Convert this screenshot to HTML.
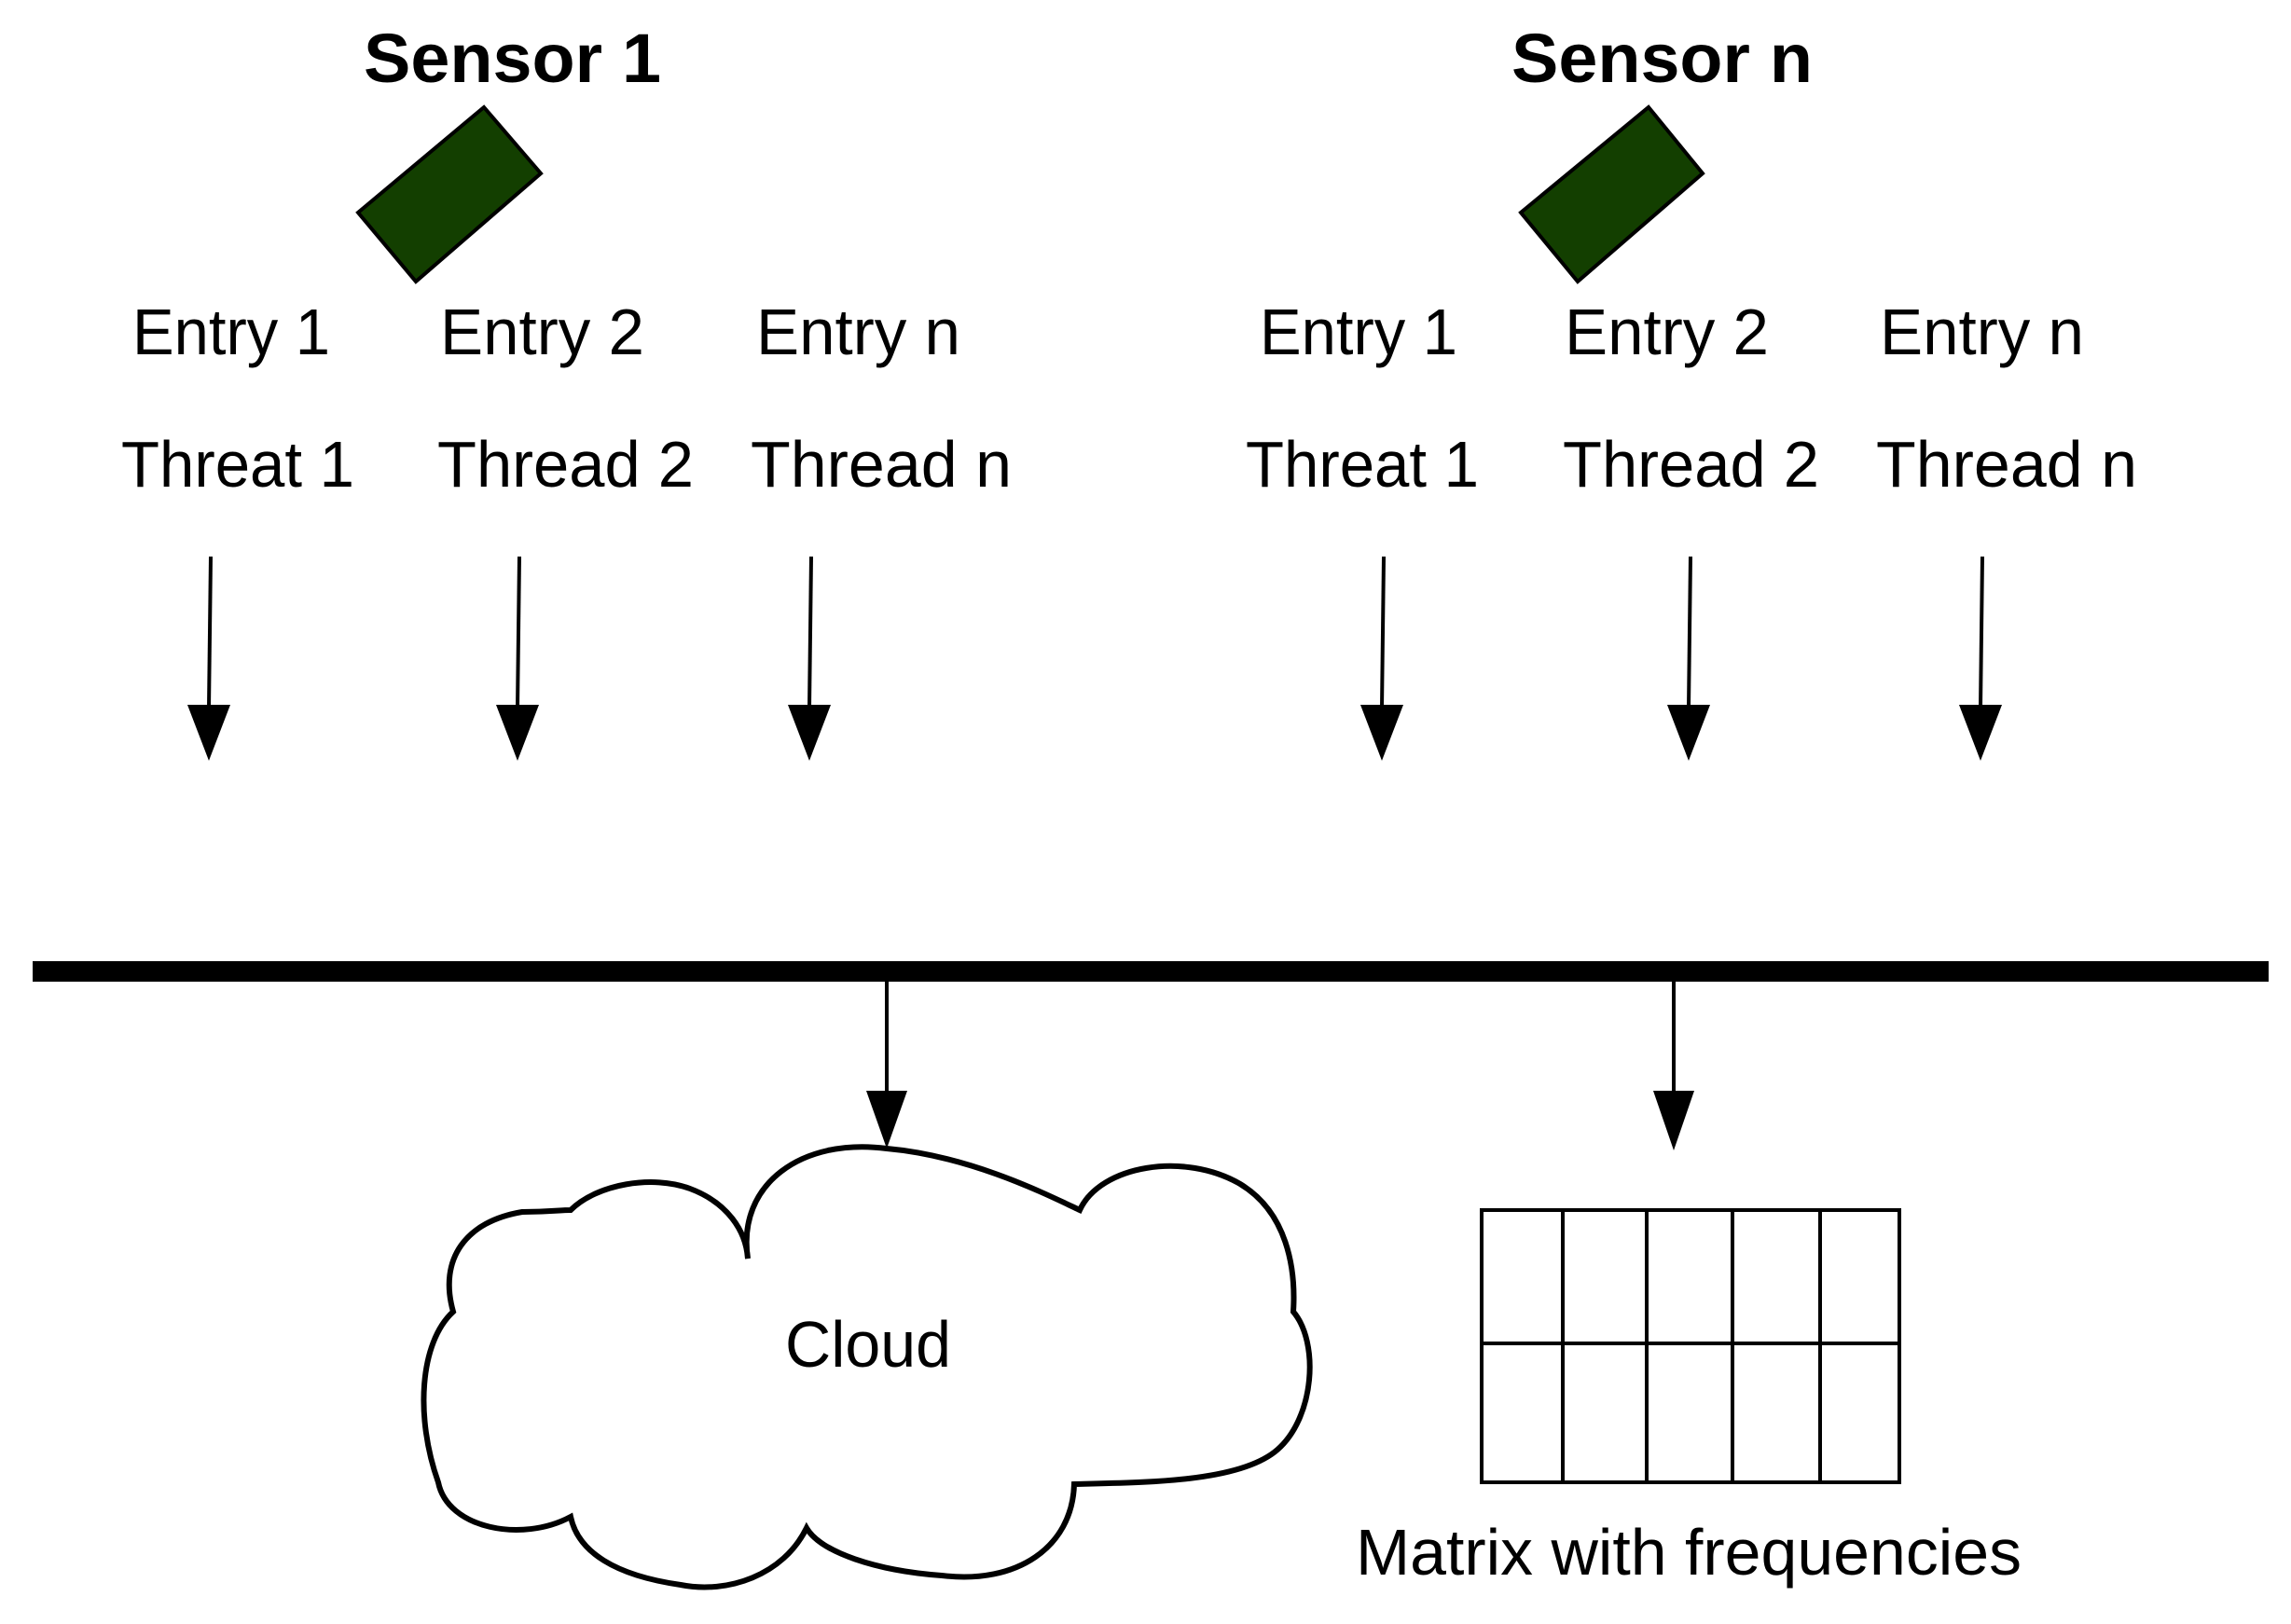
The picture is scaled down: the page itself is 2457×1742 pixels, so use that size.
<!DOCTYPE html>
<html><head><meta charset="utf-8"><style>html,body{margin:0;padding:0;background:#fff}svg{display:block}</style></head>
<body>
<svg width="2457" height="1742" viewBox="0 0 2457 1742" xmlns="http://www.w3.org/2000/svg" font-family="Liberation Sans, Arial, sans-serif">
<g font-weight="bold" font-size="74" fill="#000">
<text x="390" y="88" textLength="319" lengthAdjust="spacingAndGlyphs">Sensor 1</text>
<text x="1621" y="88" textLength="323" lengthAdjust="spacingAndGlyphs">Sensor n</text>
</g>
<polygon points="519,115 580,186 446,302 384,228" fill="#133f00" stroke="#000" stroke-width="4"/>
<polygon points="1768,115 1826,186 1692,302 1631,228" fill="#133f00" stroke="#000" stroke-width="4"/>
<g font-size="70" fill="#000">
<text x="142" y="380" textLength="212" lengthAdjust="spacingAndGlyphs">Entry 1</text>
<text x="472" y="380" textLength="219" lengthAdjust="spacingAndGlyphs">Entry 2</text>
<text x="811" y="380" textLength="219" lengthAdjust="spacingAndGlyphs">Entry n</text>
<text x="130" y="522" textLength="250" lengthAdjust="spacingAndGlyphs">Threat 1</text>
<text x="469" y="522" textLength="275" lengthAdjust="spacingAndGlyphs">Thread 2</text>
<text x="805" y="522" textLength="280" lengthAdjust="spacingAndGlyphs">Thread n</text>
<text x="1351" y="380" textLength="212" lengthAdjust="spacingAndGlyphs">Entry 1</text>
<text x="1678" y="380" textLength="219" lengthAdjust="spacingAndGlyphs">Entry 2</text>
<text x="2016" y="380" textLength="219" lengthAdjust="spacingAndGlyphs">Entry n</text>
<text x="1336" y="522" textLength="250" lengthAdjust="spacingAndGlyphs">Threat 1</text>
<text x="1676" y="522" textLength="275" lengthAdjust="spacingAndGlyphs">Thread 2</text>
<text x="2012" y="522" textLength="280" lengthAdjust="spacingAndGlyphs">Thread n</text>
<text x="842" y="1466" textLength="178" lengthAdjust="spacingAndGlyphs">Cloud</text>
<text x="1454" y="1689" textLength="714" lengthAdjust="spacingAndGlyphs">Matrix with frequencies</text>
</g>
<g stroke="#000" stroke-width="4">
<line x1="226" y1="597" x2="224" y2="760"/>
<line x1="557" y1="597" x2="555" y2="760"/>
<line x1="870" y1="597" x2="868" y2="760"/>
<line x1="1484" y1="597" x2="1482" y2="760"/>
<line x1="1813" y1="597" x2="1811" y2="760"/>
<line x1="2126" y1="597" x2="2124" y2="760"/>
<line x1="951" y1="1050" x2="951" y2="1175"/>
<line x1="1795" y1="1050" x2="1795" y2="1175"/>
</g>
<g fill="#000">
<polygon points="201,756 247,756 224,816"/>
<polygon points="532,756 578,756 555,816"/>
<polygon points="845,756 891,756 868,816"/>
<polygon points="1459,756 1505,756 1482,816"/>
<polygon points="1788,756 1834,756 1811,816"/>
<polygon points="2101,756 2147,756 2124,816"/>
<polygon points="929,1170 973,1170 951,1232"/>
<polygon points="1773,1170 1817,1170 1795,1234"/>
</g>
<rect x="35" y="1031" width="2398" height="22" fill="#000"/>
<path d="M 802,1350 C 790,1270 860,1220 951,1232 C 1040,1240 1120,1280 1158,1298 C 1180,1250 1270,1235 1330,1270 C 1380,1300 1390,1360 1387,1407 C 1415,1440 1410,1520 1370,1555 C 1330,1590 1230,1590 1152,1592 C 1150,1660 1090,1700 1010,1690 C 940,1685 880,1665 865,1639 C 840,1690 780,1710 730,1700 C 660,1690 620,1665 612,1627 C 560,1655 480,1640 470,1590 C 445,1520 450,1440 486,1407 C 470,1350 500,1310 560,1300 C 590,1300 600,1298 612,1298 C 640,1270 700,1260 740,1275 C 780,1290 800,1320 802,1350 Z" fill="none" stroke="#000" stroke-width="6"/>
<g stroke="#000" stroke-width="4" fill="none">
<rect x="1589" y="1298" width="448" height="292"/>
<line x1="1589" y1="1441" x2="2037" y2="1441"/>
<line x1="1676" y1="1298" x2="1676" y2="1590"/>
<line x1="1766" y1="1298" x2="1766" y2="1590"/>
<line x1="1858" y1="1298" x2="1858" y2="1590"/>
<line x1="1952" y1="1298" x2="1952" y2="1590"/>
</g>
</svg>
</body></html>
